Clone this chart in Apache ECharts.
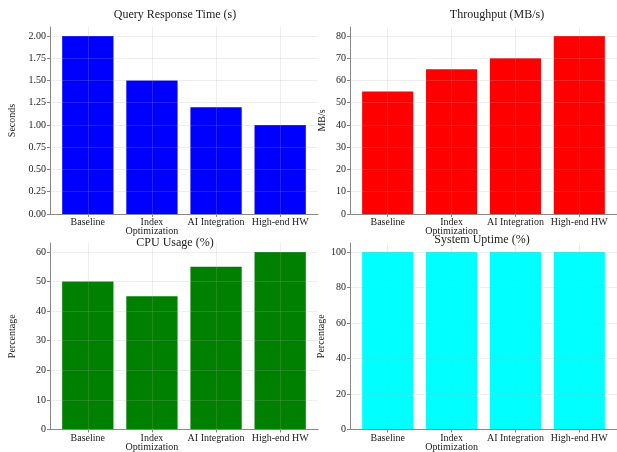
<!DOCTYPE html>
<html>
<head>
<meta charset="utf-8">
<script src="https://cdn.jsdelivr.net/npm/echarts@6/dist/echarts.min.js"></script>
<style>
html,body{margin:0;padding:0;background:#fff;}
#chart{width:617px;height:452px;}
</style>
</head>
<body>
<div id="chart"></div>
<script>
// ---- data ----
const categories = ['Baseline', 'Index\nOptimization', 'AI Integration', 'High-end HW'];
const responseTime = [2.0, 1.5, 1.2, 1.0];
const throughput = [55, 65, 70, 80];
const cpuUsage = [50, 45, 55, 60];
const uptime = [99.9, 99.95, 99.99, 99.999];
const titles = ['Query Response Time (s)', 'Throughput (MB/s)', 'CPU Usage (%)', 'System Uptime (%)'];
const yNames = ['Seconds', 'MB/s', 'Percentage', 'Percentage'];
const respTicks = [0, 0.25, 0.5, 0.75, 1.0, 1.25, 1.5, 1.75, 2.0];
const thrTicks = [0, 10, 20, 30, 40, 50, 60, 70, 80];
const cpuTicks = [0, 10, 20, 30, 40, 50, 60];
const upTicks = [0, 20, 40, 60, 80, 100];

const FONT = "'Liberation Serif', 'DejaVu Serif', serif";
const panels = [
  {vals: responseTime, ticks: respTicks, color: '#0000ff', max: 2.1, interval: 0.25, dec: 2,
   left: 50, top: 27, tx: 175, ty: 9, nameGap: 33},
  {vals: throughput, ticks: thrTicks, color: '#ff0000', max: 84, interval: 10, dec: 0,
   left: 350, top: 27, tx: 497, ty: 9, nameGap: 23},
  {vals: cpuUsage, ticks: cpuTicks, color: '#008000', max: 63, interval: 10, dec: 0,
   left: 50, top: 243, tx: 175, ty: 237, nameGap: 33},
  {vals: uptime, ticks: upTicks, color: '#00ffff', max: 105, interval: 20, dec: 0,
   left: 350, top: 243, tx: 482, ty: 234, nameGap: 24}
];

const grid = [], xAxis = [], yAxis = [], series = [], title = [];
const catIdx = categories.map((c, i) => i);
const gridColor = 'rgba(170,170,170,0.2)';
panels.forEach((p, k) => {
  grid.push({left: p.left, top: p.top, width: 268, height: 187});
  title.push({text: titles[k], left: p.tx, top: p.ty, textAlign: 'center', padding: 0,
    textStyle: {fontFamily: FONT, fontSize: 12, fontWeight: 'normal', color: '#222'}});
  xAxis.push({
    type: 'value', gridIndex: k, min: -0.59, max: 3.59,
    axisLine: {show: true, onZero: false, lineStyle: {color: '#888', width: 1}},
    axisTick: {show: true, length: 3, customValues: catIdx, lineStyle: {color: '#888'}},
    axisLabel: {customValues: catIdx, margin: 4, fontFamily: FONT, fontSize: 10, color: '#222',
      lineHeight: 9, formatter: v => categories[Math.round(v)]},
    splitLine: {show: true, lineStyle: {color: gridColor, width: 1}}
  });
  yAxis.push({
    type: 'value', gridIndex: k, min: 0, max: p.max, interval: p.interval,
    name: yNames[k], nameLocation: 'middle', nameGap: p.nameGap,
    nameTextStyle: {fontFamily: FONT, fontSize: 10, color: '#222'},
    axisLine: {show: true, onZero: false, lineStyle: {color: '#888', width: 1}},
    axisTick: {show: true, length: 3, customValues: p.ticks, lineStyle: {color: '#888'}},
    axisLabel: {customValues: p.ticks, margin: 4, fontFamily: FONT, fontSize: 10, color: '#222',
      formatter: v => v.toFixed(p.dec)},
    splitLine: {show: true, lineStyle: {color: gridColor, width: 1}}
  });
  series.push({
    type: 'bar', xAxisIndex: k, yAxisIndex: k, barWidth: '80%', z: -1,
    itemStyle: {color: p.color},
    data: p.vals.map((v, i) => [i, v])
  });
});

const chart = echarts.init(document.getElementById('chart'), null, {renderer: 'canvas'});
chart.setOption({animation: false, backgroundColor: '#fff', title, grid, xAxis, yAxis, series});
</script>
</body>
</html>
